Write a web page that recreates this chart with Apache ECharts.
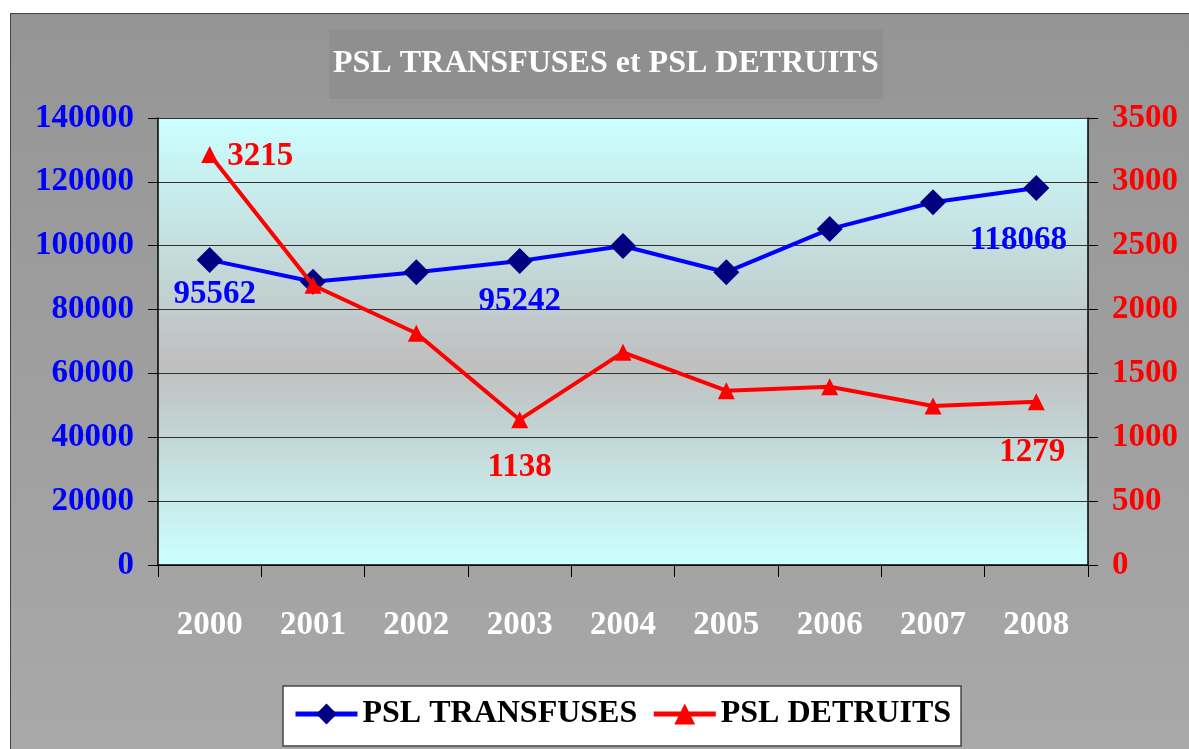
<!DOCTYPE html>
<html>
<head>
<meta charset="utf-8">
<script src="https://cdn.jsdelivr.net/npm/echarts@6/dist/echarts.min.js"></script>
<style>
  html, body { margin: 0; padding: 0; background: #fff; overflow: hidden; }
  .frame {
    position: absolute; left: 10px; top: 13px; width: 1190px; height: 750px;
    border: 1.5px solid #444;
    background: linear-gradient(#959595, #a9a9a9);
  }
  #chart { position: absolute; left: 0; top: 0; width: 1189px; height: 749px; }
</style>
</head>
<body>
<div class="frame"></div>
<div id="chart"></div>
<script>
  const years = ['2000', '2001', '2002', '2003', '2004', '2005', '2006', '2007', '2008'];
  const transfuses = [95562, 88700, 91700, 95242, 99900, 91700, 105200, 113600, 118068];
  const detruits = [3215, 2190, 1815, 1138, 1665, 1365, 1395, 1245, 1279];
  const leftTicks = [0, 20000, 40000, 60000, 80000, 100000, 120000, 140000];
  const rightTicks = [0, 500, 1000, 1500, 2000, 2500, 3000, 3500];
  // which points get a value label, and where
  const blueLabels = {0: [5, 0], 3: [0, 6], 8: [-18, 18]};
  const redLabels = {0: 'right', 3: [0, 18], 8: [-4, 21]};

  const serif = '"Liberation Serif", "Times New Roman", serif';

  function withLabels(values, labels, color) {
    return values.map((v, i) => {
      const l = labels[i];
      if (l === undefined) return v;
      const label = {show: true, color: color, fontFamily: serif, fontWeight: 'bold', fontSize: 33};
      if (l === 'right') {
        Object.assign(label, {position: 'right', offset: [4, 2]});
      } else {
        Object.assign(label, {position: 'bottom', offset: l});
      }
      return {value: v, label: label};
    });
  }

  const chart = echarts.init(document.getElementById('chart'));
  chart.setOption({
    backgroundColor: 'transparent',
    animation: false,
    title: {
      text: 'PSL TRANSFUSES et PSL DETRUITS',
      left: 329, top: 29,
      backgroundColor: '#8f8f8f',
      padding: [17, 4, 17, 4],
      textStyle: {color: '#fff', fontFamily: serif, fontWeight: 'bold', fontSize: 32, lineHeight: 36}
    },
    legend: {
      left: 283, top: 686,
      backgroundColor: '#fff',
      borderColor: '#444', borderWidth: 1.5,
      padding: [12, 10, 16, 10],
      itemWidth: 62, itemHeight: 26, itemGap: 14,
      lineStyle: {width: 5},
      textStyle: {color: '#000', fontFamily: serif, fontWeight: 'bold', fontSize: 32}
    },
    grid: {
      left: 158, top: 118, right: 101, bottom: 184,
      show: true,
      borderWidth: 0,
      backgroundColor: new echarts.graphic.LinearGradient(0, 0, 0, 1, [
        {offset: 0, color: '#ccffff'},
        {offset: 0.55, color: '#bfbfbf'},
        {offset: 1, color: '#ccffff'}
      ])
    },
    xAxis: {
      type: 'category',
      data: years,
      boundaryGap: true,
      axisLine: {lineStyle: {color: '#000', width: 1.5}},
      axisTick: {show: true, length: 12, lineStyle: {color: '#000'}},
      axisLabel: {color: '#fff', fontFamily: serif, fontWeight: 'bold', fontSize: 33, margin: 44}
    },
    yAxis: [
      {
        type: 'value', min: leftTicks[0], max: leftTicks[leftTicks.length - 1], interval: leftTicks[1] - leftTicks[0],
        position: 'left',
        axisLine: {show: true, lineStyle: {color: '#000', width: 1.5}},
        axisTick: {show: true, length: 10, lineStyle: {color: '#000'}},
        splitLine: {show: true, lineStyle: {color: '#333', width: 1}},
        axisLabel: {color: '#0000ff', fontFamily: serif, fontWeight: 'bold', fontSize: 33, margin: 24,
          formatter: v => String(v)}
      },
      {
        type: 'value', min: rightTicks[0], max: rightTicks[rightTicks.length - 1], interval: rightTicks[1] - rightTicks[0],
        position: 'right',
        axisLine: {show: true, lineStyle: {color: '#000', width: 1.5}},
        axisTick: {show: true, length: 10, lineStyle: {color: '#000'}},
        splitLine: {show: false},
        axisLabel: {color: '#ff0000', fontFamily: serif, fontWeight: 'bold', fontSize: 33, margin: 24,
          formatter: v => String(v)}
      }
    ],
    series: [
      {
        name: 'PSL TRANSFUSES',
        type: 'line',
        yAxisIndex: 0,
        data: withLabels(transfuses, blueLabels, '#0000ff'),
        lineStyle: {color: '#0000ff', width: 4},
        itemStyle: {color: '#000080'},
        symbol: 'diamond',
        symbolSize: 26,
        z: 3
      },
      {
        name: 'PSL DETRUITS',
        type: 'line',
        yAxisIndex: 1,
        data: withLabels(detruits, redLabels, '#ff0000'),
        lineStyle: {color: '#ff0000', width: 4},
        itemStyle: {color: '#ff0000'},
        symbol: 'triangle',
        symbolSize: 17,
        z: 4
      }
    ]
  });
</script>
</body>
</html>
